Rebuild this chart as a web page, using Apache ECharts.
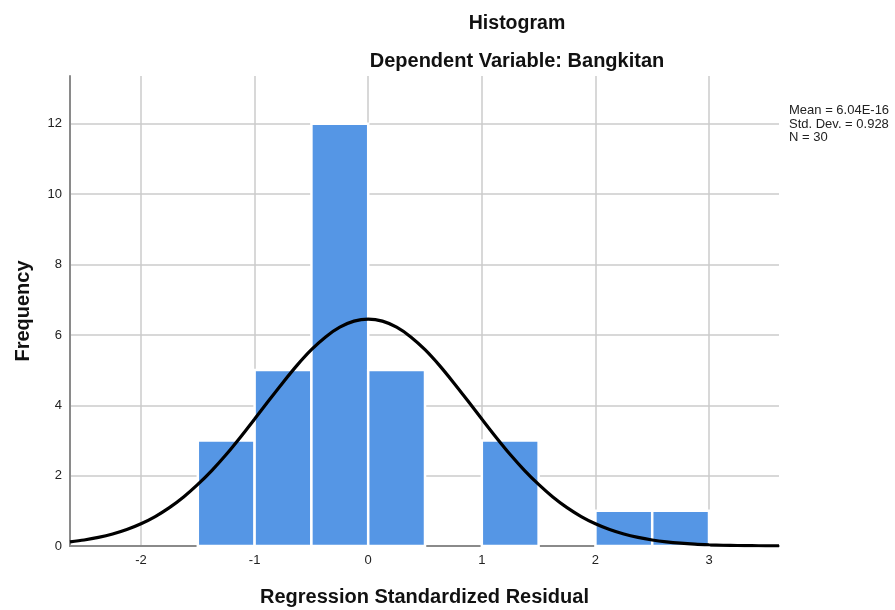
<!DOCTYPE html>
<html>
<head>
<meta charset="utf-8">
<style>
  html, body { margin: 0; padding: 0; background: #fff; }
  #chart { width: 895px; height: 610px; }
</style>
<script src="https://cdn.jsdelivr.net/npm/echarts@6/dist/echarts.min.js"></script>
</head>
<body>
<div id="chart"></div>
<script>
// Histogram bins: lower edge, upper edge, frequency
const binStart = [-1.5, -1.0, -0.5, 0.0, 1.0, 2.0, 2.5];
const binEnd   = [-1.0, -0.5, 0.0, 0.5, 1.5, 2.5, 3.0];
const binCount = [3, 5, 12, 5, 3, 1, 1];

// Fitted normal curve (expected frequency per bin), sampled along the residual axis
const curveX = [-2.625, -2.5, -2.375, -2.25, -2.125, -2.0, -1.875, -1.75, -1.625, -1.5, -1.375, -1.25,
                -1.125, -1.0, -0.875, -0.75, -0.625, -0.5, -0.375, -0.25, -0.125, 0.0,
                0.125, 0.25, 0.375, 0.5, 0.625, 0.75, 0.875, 1.0, 1.125, 1.25, 1.375, 1.5,
                1.625, 1.75, 1.875, 2.0, 2.125, 2.25, 2.375, 2.5, 2.625, 2.75, 2.875, 3.0,
                3.125, 3.25, 3.375, 3.5, 3.616];
const curveY = [0.118, 0.171, 0.244, 0.341, 0.469, 0.633, 0.838, 1.09, 1.393, 1.75, 2.152, 2.60,
                3.093, 3.61, 4.135, 4.65, 5.141, 5.58, 5.944, 6.22, 6.392, 6.45,
                6.392, 6.22, 5.944, 5.58, 5.141, 4.65, 4.135, 3.61, 3.093, 2.60, 2.152, 1.75,
                1.393, 1.09, 0.838, 0.633, 0.469, 0.341, 0.244, 0.171, 0.118, 0.080, 0.053, 0.035,
                0.022, 0.014, 0.009, 0.005, 0.003];

const xTicks = [-2, -1, 0, 1, 2, 3];
const yTicks = [0, 2, 4, 6, 8, 10, 12];

const statsLines = ['Mean = 6.04E-16', 'Std. Dev. = 0.928', 'N = 30'];

const barData = binStart.map((s, i) => [s, binEnd[i], binCount[i]]);
const curveData = curveX.map((x, i) => [x, curveY[i]]);

const chart = echarts.init(document.getElementById('chart'), null, { renderer: 'canvas' });

const fontFam = 'Arial, "Liberation Sans", sans-serif';

chart.setOption({
  animation: false,
  backgroundColor: '#ffffff',
  title: [
    {
      text: 'Histogram',
      left: 512, top: 9, textAlign: 'center',
      textStyle: { fontFamily: fontFam, fontSize: 19.5, fontWeight: 'bold', color: '#111' }
    },
    {
      text: 'Dependent Variable: Bangkitan',
      left: 512, top: 46, textAlign: 'center',
      textStyle: { fontFamily: fontFam, fontSize: 20, fontWeight: 'bold', color: '#111' }
    }
  ],
  graphic: [
    {
      type: 'text',
      left: 789, top: 104,
      style: {
        text: statsLines.join('\n'),
        font: '13px ' + fontFam,
        fill: '#222',
        lineHeight: 13.5
      }
    }
  ],
  grid: { left: 70, right: 116, top: 76, bottom: 64, containLabel: false, outerBoundsMode: 'none' },
  xAxis: {
    type: 'value',
    min: -2.625,
    max: 3.616,
    name: 'Regression Standardized Residual',
    nameLocation: 'middle',
    nameGap: 41,
    nameTextStyle: { fontFamily: fontFam, fontSize: 20, fontWeight: 'bold', color: '#111' },
    axisLine: { show: true, onZero: false, lineStyle: { color: '#8a8a8a', width: 2 } },
    axisTick: { show: false, customValues: xTicks },
    axisLabel: {
      customValues: xTicks,
      margin: 8,
      fontFamily: fontFam, fontSize: 13, color: '#222'
    },
    splitLine: { show: true, lineStyle: { color: '#cbcbcb', width: 1.5 } }
  },
  yAxis: {
    type: 'value',
    min: 0,
    max: 13.36,
    name: 'Frequency',
    nameLocation: 'middle',
    nameGap: 37,
    nameRotate: 90,
    nameTextStyle: { fontFamily: fontFam, fontSize: 20, fontWeight: 'bold', color: '#111' },
    axisLine: { show: true, onZero: false, lineStyle: { color: '#8a8a8a', width: 2 } },
    axisTick: { show: false, customValues: yTicks },
    axisLabel: {
      customValues: yTicks,
      margin: 8,
      fontFamily: fontFam, fontSize: 13, color: '#222'
    },
    splitLine: { show: true, lineStyle: { color: '#cbcbcb', width: 1.5 } }
  },
  series: [
    {
      type: 'custom',
      data: barData,
      encode: { x: [0, 1], y: 2 },
      z: 2,
      renderItem: function (params, api) {
        const p0 = api.coord([api.value(0), 0]);
        const p1 = api.coord([api.value(1), api.value(2)]);
        return {
          type: 'rect',
          shape: { x: p0[0], y: p1[1], width: p1[0] - p0[0], height: p0[1] - p1[1] },
          style: { fill: '#5596e5', stroke: '#ffffff', lineWidth: 2.5 }
        };
      }
    },
    {
      type: 'line',
      data: curveData,
      smooth: 0.3,
      showSymbol: false,
      z: 3,
      lineStyle: { color: '#000000', width: 3.2 }
    }
  ]
});
</script>
</body>
</html>
